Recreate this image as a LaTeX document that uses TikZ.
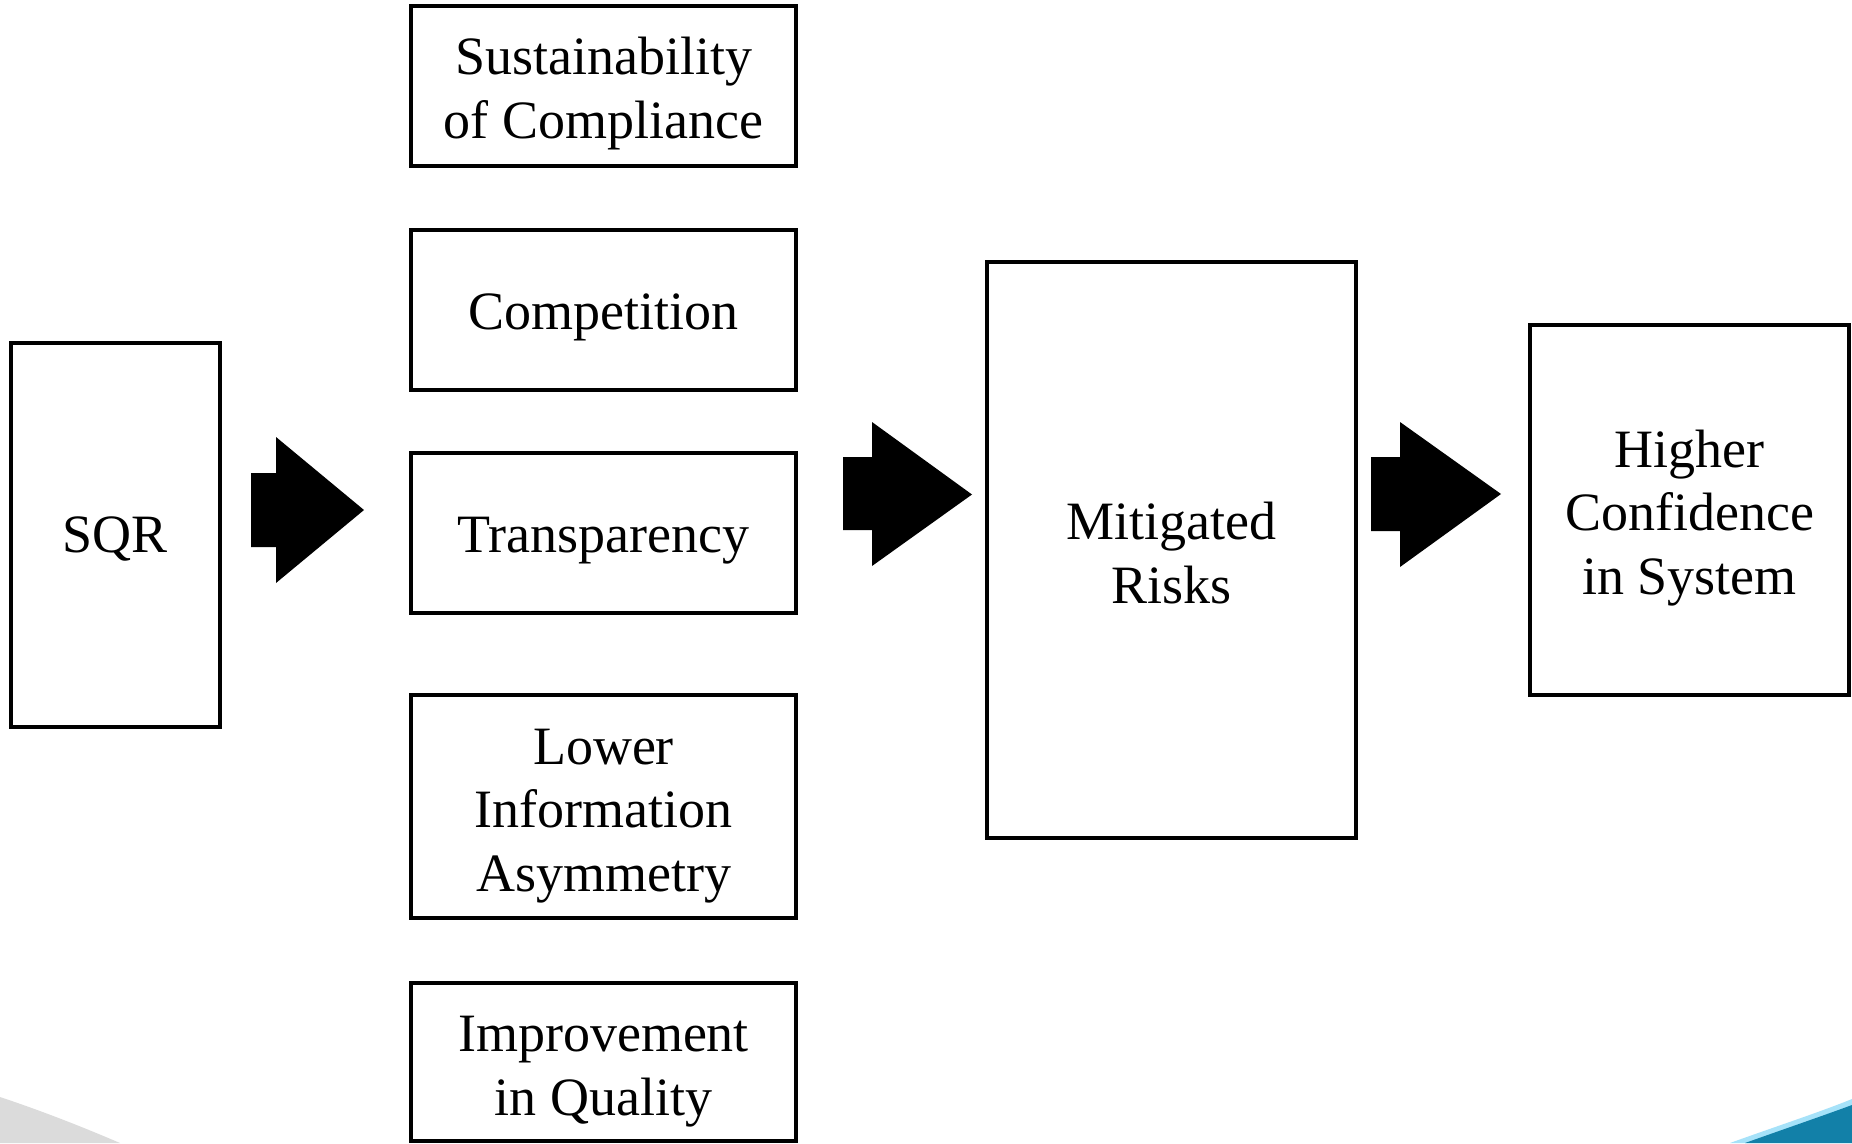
\documentclass[tikz,border=0pt]{standalone}
\usepackage{fontspec}
\setmainfont{Liberation Serif}
\definecolor{swooshblue}{RGB}{18,128,168}
\newcommand{\boxlines}[2][8pt]{\raisebox{-#1}[\height][\depth]{\begin{tabular}{@{}c@{}}#2\end{tabular}}}
\begin{document}
\begin{tikzpicture}[x=1pt,y=-1pt,
  box/.style={draw=black,line width=4pt,fill=none,inner sep=0pt,
    font=\fontsize{54}{63.5}\selectfont},
  blockarrow/.style={fill=black,draw=none}]
\useasboundingbox (0,0) rectangle (1852,1143);
\fill[white] (0,0) rectangle (1852,1143);
% background corner decorations
\fill[black!14] (0,1097) .. controls (45,1112) and (85,1128) .. (120,1143) -- (0,1143) -- cycle;
\fill[cyan!35] (1730,1143) .. controls (1780,1125) and (1820,1112) .. (1852,1099) -- (1852,1143) -- cycle;
\fill[swooshblue] (1745,1143) .. controls (1790,1127) and (1825,1115) .. (1852,1105) -- (1852,1143) -- cycle;
% boxes
\node[box,minimum width=209pt,minimum height=384pt] (sqr) at (115,534.5) {\boxlines[5pt]{SQR}};
\node[box,minimum width=385pt,minimum height=160pt] (sus) at (603.5,86) {\boxlines[8pt]{Sustainability\\of Compliance}};
\node[box,minimum width=385pt,minimum height=160pt] (comp) at (603.5,310) {\boxlines[7pt]{Competition}};
\node[box,minimum width=385pt,minimum height=160pt] (trans) at (603.5,533) {\boxlines[7pt]{Transparency}};
\node[box,minimum width=385pt,minimum height=223pt] (lower) at (603.5,806) {\boxlines[9pt]{Lower\\Information\\Asymmetry}};
\node[box,minimum width=385pt,minimum height=158pt] (impr) at (603.5,1062) {\boxlines[9pt]{Improvement\\in Quality}};
\node[box,minimum width=369pt,minimum height=576pt] (mit) at (1171.5,550) {\boxlines[9pt]{Mitigated\\Risks}};
\node[box,minimum width=319pt,minimum height=370pt] (high) at (1689.5,510) {\boxlines[8pt]{Higher\\Confidence\\in System}};
% block arrows
\fill[blockarrow] (251,473) -- (276,473) -- (276,437) -- (364,510) -- (276,583) -- (276,547) -- (251,547) -- cycle;
\fill[blockarrow] (843,457) -- (872,457) -- (872,422) -- (972,494.5) -- (872,566) -- (872,530) -- (843,530) -- cycle;
\fill[blockarrow] (1371,457) -- (1400,457) -- (1400,422) -- (1501,494) -- (1400,567) -- (1400,531) -- (1371,531) -- cycle;
\end{tikzpicture}
\end{document}
